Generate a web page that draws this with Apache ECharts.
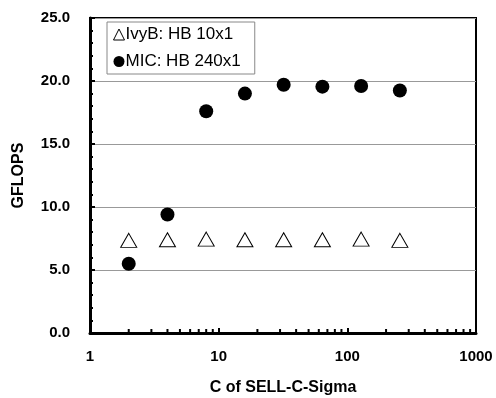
<!DOCTYPE html>
<html>
<head>
<meta charset="utf-8">
<script src="https://cdn.jsdelivr.net/npm/echarts@6/dist/echarts.min.js"></script>
<style>
  html, body { margin: 0; padding: 0; background: #fff; }
  #chart { width: 496px; height: 398px; }
</style>
</head>
<body>
<div id="chart"></div>
<script>
// C values (x, log scale)
const cValues = [2, 4, 8, 16, 32, 64, 128, 256];
// GFLOPS per series
const ivyB = [7.35, 7.4, 7.45, 7.4, 7.4, 7.4, 7.45, 7.35];
const mic = [5.5, 9.4, 17.6, 19.0, 19.7, 19.55, 19.6, 19.25];
// log minor tick positions on x
const xMinorTicks = [2, 3, 4, 5, 6, 7, 8, 9, 20, 30, 40, 50, 60, 70, 80, 90, 200, 300, 400, 500, 600, 700, 800, 900];

const font = 'Arial, "Liberation Sans", sans-serif';
const chart = echarts.init(document.getElementById('chart'));

const option = {
  backgroundColor: '#fff',
  animation: false,
  grid: {
    left: 90, right: 20, top: 18, bottom: 65,
    outerBoundsMode: 'none',
    show: true, borderColor: '#000', borderWidth: 2
  },
  legend: {
    left: 107, top: 22,
    orient: 'vertical',
    data: [
      { name: 'IvyB: HB 10x1', icon: 'triangle', itemStyle: { color: '#fff', borderColor: '#000', borderWidth: 1 } },
      { name: 'MIC: HB 240x1', icon: 'circle', itemStyle: { color: '#000' } }
    ],
    itemWidth: 11, itemHeight: 11, itemGap: 10,
    padding: [4, 14, 4, 6],
    borderColor: '#888', borderWidth: 1,
    textStyle: { fontFamily: font, fontSize: 17, color: '#000', padding: [0, 0, 0, -4] }
  },
  xAxis: {
    type: 'log', logBase: 10, min: 1, max: 1000,
    name: 'C of SELL-C-Sigma', nameLocation: 'middle', nameGap: 47,
    nameTextStyle: { fontFamily: font, fontSize: 16, fontWeight: 'bold', color: '#000' },
    axisLine: { lineStyle: { color: '#000', width: 3 } },
    axisTick: { inside: true, length: 5, lineStyle: { color: '#000', width: 2 } },
    axisLabel: {
      fontFamily: font, fontSize: 15, fontWeight: 'bold', color: '#000', margin: 16,
      formatter: v => String(Math.round(v))
    },
    splitLine: { show: false }
  },
  yAxis: {
    type: 'value', min: 0, max: 25, interval: 5,
    name: 'GFLOPS', nameLocation: 'middle', nameGap: 63,
    nameTextStyle: { fontFamily: font, fontSize: 16, fontWeight: 'bold', color: '#000' },
    axisLine: { show: true, lineStyle: { color: '#000', width: 3 } },
    axisTick: { show: true, inside: true, length: 5, lineStyle: { color: '#000', width: 2 } },
    minorTick: { show: true, splitNumber: 5, length: 3, lineStyle: { color: '#000', width: 2 } },
    axisLabel: {
      fontFamily: font, fontSize: 15, fontWeight: 'bold', color: '#000', margin: 20,
      formatter: v => v.toFixed(1)
    },
    splitLine: { show: true, lineStyle: { color: '#999', width: 1 } }
  },
  series: [
    {
      name: 'IvyB: HB 10x1',
      type: 'scatter',
      symbol: 'triangle',
      symbolSize: [16, 14],
      itemStyle: { color: '#fff', borderColor: '#000', borderWidth: 1, opacity: 1 },
      data: cValues.map((c, i) => [c, ivyB[i]]),
      z: 3
    },
    {
      name: 'MIC: HB 240x1',
      type: 'scatter',
      symbol: 'circle',
      symbolSize: 14,
      itemStyle: { color: '#000', opacity: 1 },
      data: cValues.map((c, i) => [c, mic[i]]),
      z: 4
    },
    {
      type: 'custom',
      silent: true,
      z: 5,
      data: xMinorTicks.map(v => [v, 0]),
      renderItem: (params, api) => {
        const p = api.coord([api.value(0), 0]);
        return {
          type: 'line',
          shape: { x1: p[0], y1: p[1], x2: p[0], y2: p[1] - 4 },
          style: { stroke: '#000', lineWidth: 2 }
        };
      }
    }
  ]
};

chart.setOption(option);
</script>
</body>
</html>
